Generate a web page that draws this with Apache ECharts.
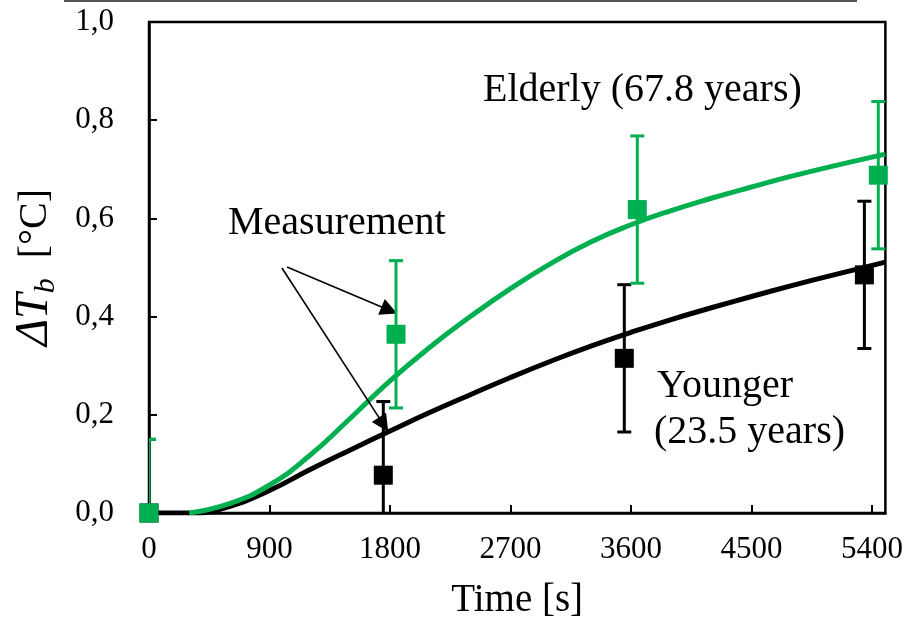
<!DOCTYPE html>
<html><head><meta charset="utf-8">
<script src="https://cdn.jsdelivr.net/npm/echarts@6/dist/echarts.min.js"></script>
<style>html,body{margin:0;padding:0;background:#fff}#c{width:906px;height:633px}</style>
</head><body><div id="c"></div>
<script>
// Axis settings
const xMin = 0, xMax = 5500, xStep = 900;
const yMin = 0, yMax = 1.0, yStep = 0.2;

// Fitted curves
const youngFitX = [0, 300, 600, 900, 1200, 1500, 1800, 2100, 2400, 2700, 3000, 3300, 3600, 3900, 4200, 4500, 4800, 5100, 5500];
const youngFitY = [0, 0, 0.013, 0.046, 0.088, 0.128, 0.167, 0.205, 0.241, 0.276, 0.309, 0.340, 0.368, 0.394, 0.418, 0.441, 0.463, 0.484, 0.511];
const elderFitX = [300, 600, 900, 1200, 1500, 1800, 2100, 2400, 2700, 3000, 3300, 3600, 3900, 4200, 4500, 4800, 5100, 5500];
const elderFitY = [0, 0.019, 0.057, 0.117, 0.192, 0.269, 0.338, 0.400, 0.457, 0.508, 0.552, 0.587, 0.616, 0.641, 0.664, 0.686, 0.706, 0.731];

// Measurements with error bars
const youngMeasX = [0, 1750, 3550, 5343];
const youngMeasY = [0, 0.077, 0.315, 0.485];
const youngErr   = [0.15, 0.15, 0.15, 0.15];
const elderMeasX = [0, 1845, 3647, 5447];
const elderMeasY = [0, 0.364, 0.618, 0.688];
const elderErr   = [0.15, 0.15, 0.15, 0.15];

// Annotation arrows (data coordinates): [tailX, tailY, headX, headY]
const arrows = [
  [1031, 0.501, 1795, 0.413],
  [993, 0.499, 1752, 0.180]
];

const GREEN = '#00B050';
const FONT = "'Liberation Serif', 'Times New Roman', serif";

const zip = (xs, ys) => xs.map((x, i) => [x, ys[i]]);
const errData = (xs, ys, es) => xs.map((x, i) => [x, ys[i] - es[i], ys[i] + es[i]]);

function errRender(color, lw) {
  return function (params, api) {
    const x = api.value(0), lo = api.value(1), hi = api.value(2);
    const pLo = api.coord([x, lo]), pHi = api.coord([x, hi]);
    const hw = 7;
    const st = { stroke: color, lineWidth: lw };
    return {
      type: 'group', children: [
        { type: 'line', shape: { x1: pHi[0], y1: pHi[1], x2: pLo[0], y2: pLo[1] }, style: st },
        { type: 'line', shape: { x1: pHi[0] - hw, y1: pHi[1], x2: pHi[0] + hw, y2: pHi[1] }, style: st },
        { type: 'line', shape: { x1: pLo[0] - hw, y1: pLo[1], x2: pLo[0] + hw, y2: pLo[1] }, style: st }
      ]
    };
  };
}

const chart = echarts.init(document.getElementById('c'));
chart.setOption({
  animation: false,
  backgroundColor: '#fff',
  grid: { left: 149, right: 20, top: 22, bottom: 120, show: true, borderColor: '#000', borderWidth: 2.5, backgroundColor: 'transparent' },
  xAxis: {
    type: 'value', min: xMin, max: xMax, interval: xStep,
    name: 'Time [s]', nameLocation: 'middle', nameGap: 68,
    nameTextStyle: { fontFamily: FONT, fontSize: 39, color: '#000' },
    axisLine: { lineStyle: { color: '#000', width: 2.5 } },
    axisTick: { inside: true, length: 8, lineStyle: { color: '#000', width: 2 } },
    axisLabel: {
      fontFamily: FONT, fontSize: 31, color: '#000', margin: 21, showMaxLabel: false,
      formatter: v => (v % xStep === 0 ? String(v) : '')
    },
    splitLine: { show: false }
  },
  yAxis: {
    type: 'value', min: yMin, max: yMax, interval: yStep,
    name: '{i|ΔT}{s|b}{n|  [°C]}', nameLocation: 'middle', nameGap: 88, nameRotate: 90,
    nameTextStyle: {
      fontFamily: FONT, color: '#000',
      rich: {
        i: { fontFamily: FONT, fontStyle: 'italic', fontSize: 46, color: '#000' },
        s: { fontFamily: FONT, fontStyle: 'italic', fontSize: 30, color: '#000', padding: [22, 0, 0, 0] },
        n: { fontFamily: FONT, fontSize: 40, color: '#000' }
      }
    },
    axisLine: { lineStyle: { color: '#000', width: 2.5 } },
    axisTick: { inside: true, length: 8, lineStyle: { color: '#000', width: 2 } },
    axisLabel: {
      fontFamily: FONT, fontSize: 31, color: '#000', margin: 35,
      formatter: v => v.toFixed(1).replace('.', ',')
    },
    splitLine: { show: false }
  },
  graphic: [
    { type: 'rect', shape: { x: 64, y: 0, width: 793, height: 2 }, style: { fill: '#555' } },
    { type: 'text', left: 483, top: 70, style: { text: 'Elderly (67.8 years)', font: '40px ' + FONT, fill: '#000' } },
    { type: 'text', left: 228, top: 203, style: { text: 'Measurement', font: '40px ' + FONT, fill: '#000' } },
    { type: 'text', left: 657, top: 366, style: { text: 'Younger', font: '40px ' + FONT, fill: '#000' } },
    { type: 'text', left: 654, top: 412, style: { text: '(23.5 years)', font: '40px ' + FONT, fill: '#000' } }
  ],
  series: [
    {
      name: 'Younger fit', type: 'line', data: zip(youngFitX, youngFitY), smooth: true, showSymbol: false,
      lineStyle: { color: '#000', width: 5 }, z: 2,
      markLine: {
        silent: true, symbol: ['none', 'triangle'], symbolSize: 17,
        lineStyle: { color: '#000', width: 1.6, type: 'solid' }, label: { show: false },
        data: arrows.map(a => [{ coord: [a[0], a[1]] }, { coord: [a[2], a[3]] }])
      }
    },
    {
      name: 'Elderly fit', type: 'line', data: zip(elderFitX, elderFitY), smooth: true, showSymbol: false,
      lineStyle: { color: GREEN, width: 5 }, z: 3
    },
    {
      name: 'Younger err', type: 'custom', data: errData(youngMeasX, youngMeasY, youngErr),
      renderItem: errRender('#000', 3), clip: true, z: 4, encode: { x: 0, y: [1, 2] }
    },
    {
      name: 'Younger', type: 'scatter', data: zip(youngMeasX, youngMeasY), symbol: 'rect', symbolSize: 19,
      itemStyle: { color: '#000', opacity: 1 }, z: 5, clip: false
    },
    {
      name: 'Elderly err', type: 'custom', data: errData(elderMeasX, elderMeasY, elderErr),
      renderItem: errRender(GREEN, 3), clip: true, z: 6, encode: { x: 0, y: [1, 2] }
    },
    {
      name: 'Elderly', type: 'scatter', data: zip(elderMeasX, elderMeasY), symbol: 'rect', symbolSize: 19,
      itemStyle: { color: GREEN, opacity: 1 }, z: 7, clip: false
    }
  ]
});
</script>
</body></html>
